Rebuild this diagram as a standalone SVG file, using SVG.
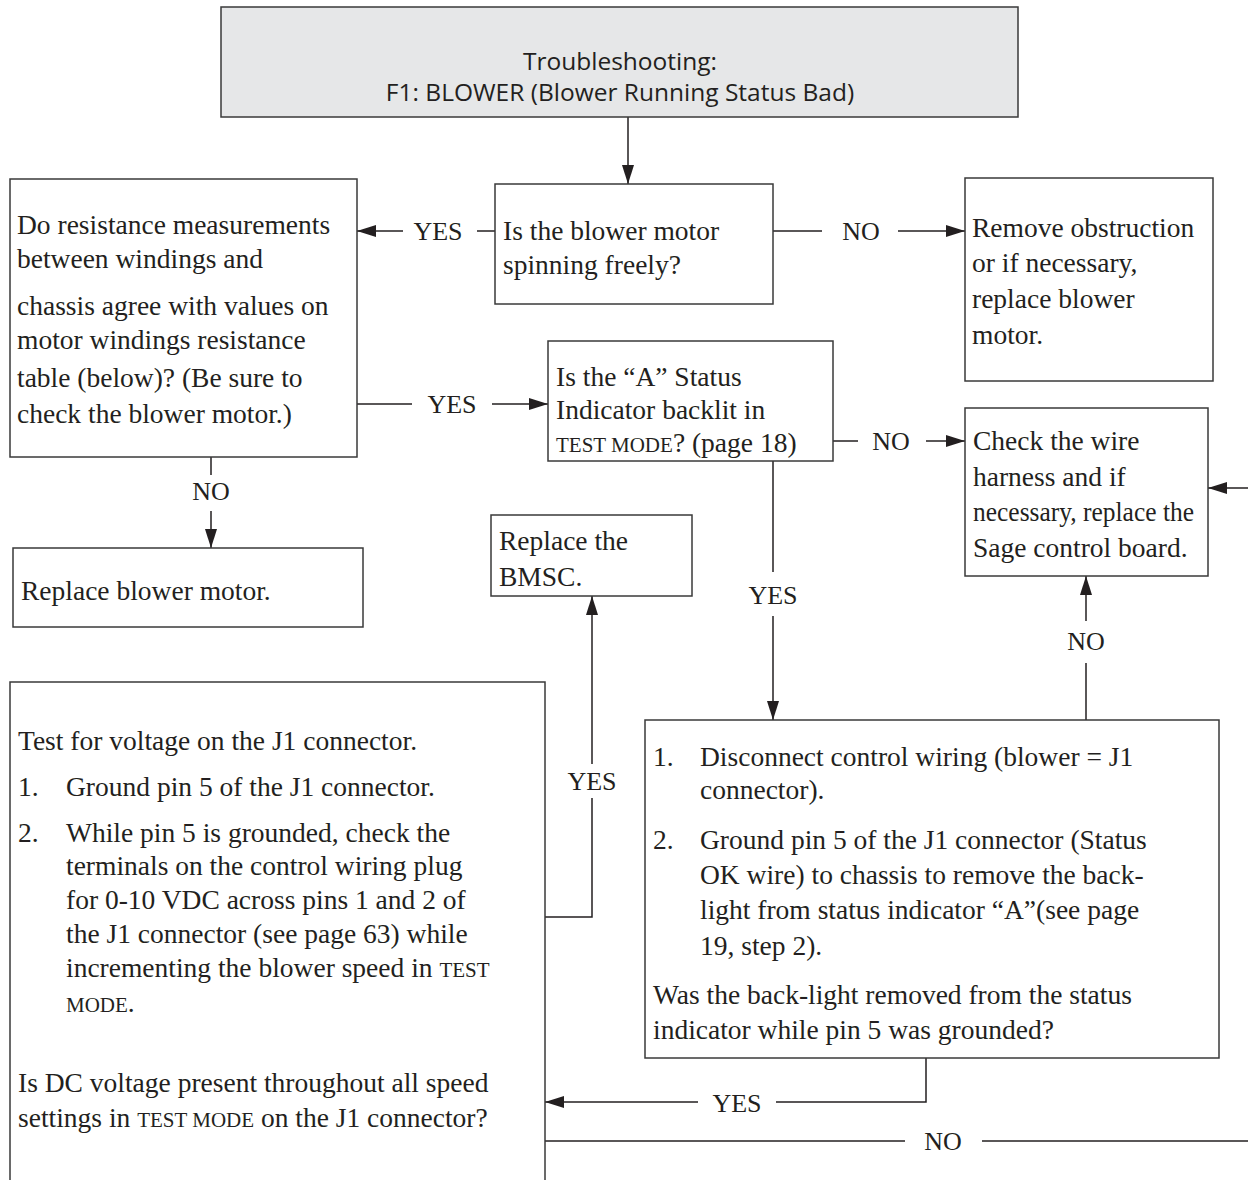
<svg xmlns="http://www.w3.org/2000/svg" width="1248" height="1180" viewBox="0 0 1248 1180">
<defs>
<marker id="ah" markerUnits="userSpaceOnUse" markerWidth="20" markerHeight="12" refX="19" refY="6" orient="auto">
<path d="M0,0 L19,6 L0,12 Z" fill="#231f20"/>
</marker>
<style>
.box{fill:#fff;stroke:#3a3a3a;stroke-width:1.5}
.title{fill:#e6e7e8;stroke:#3a3a3a;stroke-width:1.5}
.ln{fill:none;stroke:#231f20;stroke-width:1.5}
.ar{fill:none;stroke:#231f20;stroke-width:1.5;marker-end:url(#ah)}
.t{font-family:"Liberation Serif","Times New Roman",serif;font-size:27.5px;fill:#231f20}
.lb{font-family:"Liberation Serif","Times New Roman",serif;font-size:26px;fill:#231f20;text-anchor:middle}
.sc{font-size:21px}
.ts{font-family:"Open Sans","Liberation Sans",sans-serif;font-size:24.5px;fill:#231f20;text-anchor:middle}
</style>
</defs>
<rect width="1248" height="1180" fill="#fff"/>

<g id="connectors">
<path class="ar" d="M628,117 V184"/>
<path class="ln" d="M495,231 H477"/>
<text class="lb" x="438" y="240">YES</text>
<path class="ar" d="M403,231 H357"/>
<path class="ln" d="M773,231 H822"/>
<text class="lb" x="861" y="240">NO</text>
<path class="ar" d="M898,231 H965"/>
<path class="ln" d="M357,404 H412"/>
<text class="lb" x="452" y="413">YES</text>
<path class="ar" d="M492,404 H548"/>
<path class="ln" d="M833,441 H858"/>
<text class="lb" x="891" y="450">NO</text>
<path class="ar" d="M926,441 H965"/>
<path class="ar" d="M1248,488 H1208"/>
<path class="ln" d="M211,457 V475"/>
<text class="lb" x="211" y="500">NO</text>
<path class="ar" d="M211,511 V548"/>
<path class="ln" d="M773,461 V572"/>
<text class="lb" x="773" y="604">YES</text>
<path class="ar" d="M773,616 V720"/>
<path class="ln" d="M1086,720 V663"/>
<text class="lb" x="1086" y="650">NO</text>
<path class="ar" d="M1086,621 V576"/>
<path class="ln" d="M545,917 H592 V798"/>
<text class="lb" x="592" y="790">YES</text>
<path class="ar" d="M592,764 V596"/>
<path class="ln" d="M926,1058 V1102 H776"/>
<text class="lb" x="737" y="1112">YES</text>
<path class="ar" d="M698,1102 H545"/>
<path class="ln" d="M545,1141 H905"/>
<text class="lb" x="943" y="1150">NO</text>
<path class="ln" d="M982,1141 H1248"/>
</g>

<g id="n-title">
<rect class="title" x="221" y="7" width="797" height="110"/>
<text class="ts" x="620" y="70">Troubleshooting:</text>
<text class="ts" x="620" y="101">F1: BLOWER (Blower Running Status Bad)</text>
</g>

<g id="n-spinning">
<rect class="box" x="495" y="184" width="278" height="120"/>
<text class="t" x="503" y="240">Is the blower motor</text>
<text class="t" x="503" y="274">spinning freely?</text>
</g>

<g id="n-resistance">
<rect class="box" x="10" y="179" width="347" height="278"/>
<text class="t" x="17" y="234">Do resistance measurements</text>
<text class="t" x="17" y="268">between windings and</text>
<text class="t" x="17" y="315">chassis agree with values on</text>
<text class="t" x="17" y="349">motor windings resistance</text>
<text class="t" x="17" y="387">table (below)? (Be sure to</text>
<text class="t" x="17" y="423">check the blower motor.)</text>
</g>

<g id="n-obstruction">
<rect class="box" x="965" y="178" width="248" height="203"/>
<text class="t" x="972" y="237">Remove obstruction</text>
<text class="t" x="972" y="272">or if necessary,</text>
<text class="t" x="972" y="308">replace blower</text>
<text class="t" x="972" y="344">motor.</text>
</g>

<g id="n-backlit">
<rect class="box" x="548" y="341" width="285" height="120"/>
<text class="t" x="556" y="386">Is the “A” Status</text>
<text class="t" x="556" y="419">Indicator backlit in</text>
<text class="t" x="556" y="452"><tspan class="sc">TEST MODE</tspan>? (page 18)</text>
</g>

<g id="n-harness">
<rect class="box" x="965" y="408" width="243" height="168"/>
<text class="t" x="973" y="450">Check the wire</text>
<text class="t" x="973" y="486">harness and if</text>
<text class="t" x="973" y="521" textLength="221" lengthAdjust="spacingAndGlyphs">necessary, replace the</text>
<text class="t" x="973" y="557">Sage control board.</text>
</g>

<g id="n-replace-motor">
<rect class="box" x="13" y="548" width="350" height="79"/>
<text class="t" x="21" y="600">Replace blower motor.</text>
</g>

<g id="n-bmsc">
<rect class="box" x="491" y="515" width="201" height="81"/>
<text class="t" x="499" y="550">Replace the</text>
<text class="t" x="499" y="586">BMSC.</text>
</g>

<g id="n-disconnect">
<rect class="box" x="645" y="720" width="574" height="338"/>
<text class="t" x="653" y="766">1.</text>
<text class="t" x="700" y="766">Disconnect control wiring (blower = J1</text>
<text class="t" x="700" y="799">connector).</text>
<text class="t" x="653" y="849">2.</text>
<text class="t" x="700" y="849">Ground pin 5 of the J1 connector (Status</text>
<text class="t" x="700" y="884">OK wire) to chassis to remove the back-</text>
<text class="t" x="700" y="919">light from status indicator “A”(see page</text>
<text class="t" x="700" y="955">19, step 2).</text>
<text class="t" x="653" y="1004">Was the back-light removed from the status</text>
<text class="t" x="653" y="1039">indicator while pin 5 was grounded?</text>
</g>

<g id="n-voltage">
<rect class="box" x="10" y="682" width="535" height="510"/>
<text class="t" x="18" y="750">Test for voltage on the J1 connector.</text>
<text class="t" x="18" y="796">1.</text>
<text class="t" x="66" y="796">Ground pin 5 of the J1 connector.</text>
<text class="t" x="18" y="842">2.</text>
<text class="t" x="66" y="842">While pin 5 is grounded, check the</text>
<text class="t" x="66" y="875">terminals on the control wiring plug</text>
<text class="t" x="66" y="909">for 0-10 VDC across pins 1 and 2 of</text>
<text class="t" x="66" y="943">the J1 connector (see page 63) while</text>
<text class="t" x="66" y="977">incrementing the blower speed in <tspan class="sc">TEST</tspan></text>
<text class="t" x="66" y="1012"><tspan class="sc">MODE</tspan>.</text>
<text class="t" x="18" y="1092">Is DC voltage present throughout all speed</text>
<text class="t" x="18" y="1127">settings in <tspan class="sc">TEST MODE</tspan> on the J1 connector?</text>
</g>
</svg>
